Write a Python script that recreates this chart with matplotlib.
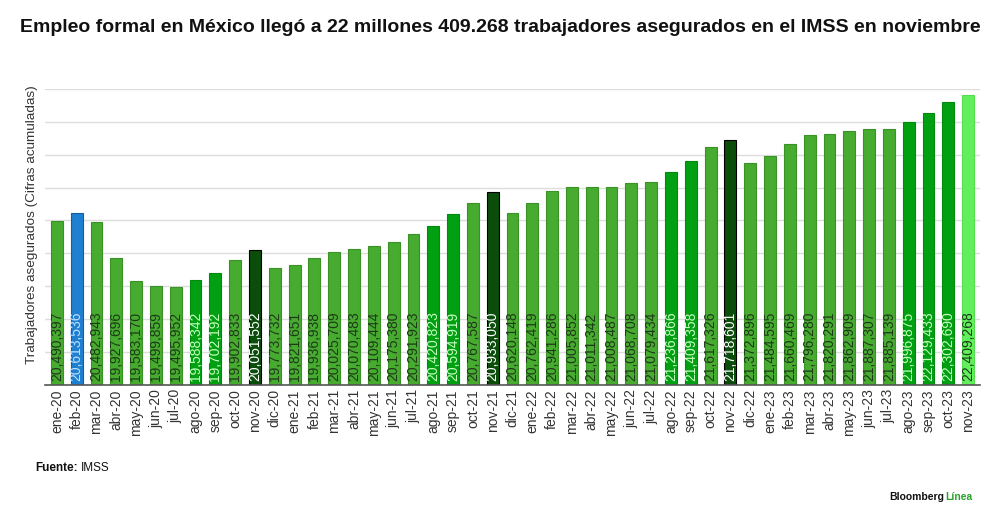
import matplotlib
matplotlib.use("Agg")
import matplotlib.pyplot as plt
from matplotlib.transforms import offset_copy

plt.rcParams['font.family'] = ['Liberation Sans', 'DejaVu Sans']

months = ["ene", "feb", "mar", "abr", "may", "jun", "jul", "ago", "sep", "oct", "nov", "dic"]
categories = [f"{m}-{y}" for y in ["20", "21", "22", "23"] for m in months][:47]

values = [
    20490397, 20613536, 20482943, 19927696, 19583170, 19499859, 19495952, 19588342,
    19702192, 19902833, 20051552, 19773732,
    19821651, 19936938, 20025709, 20070483, 20109444, 20175380, 20291923, 20420823,
    20594919, 20767587, 20933050, 20620148,
    20762419, 20941286, 21005852, 21011342, 21008487, 21068708, 21079434, 21236866,
    21409358, 21617326, 21718601, 21372896,
    21484595, 21660469, 21796280, 21820291, 21862909, 21887307, 21885139, 21996875,
    22129433, 22302690, 22409268,
]

# bar style groups
blue_bars = ["feb-20"]
bright_bars = ["ago-20", "sep-20", "ago-21", "sep-21", "ago-22", "sep-22",
               "ago-23", "sep-23", "oct-23"]
dark_bars = ["nov-20", "nov-21", "nov-22"]
light_bars = ["nov-23"]

styles = {
    "normal": dict(face="#47ab30", edge="#3a9126", text="#1d3a18"),
    "blue": dict(face="#1f7fd0", edge="#145fa3", text="#bfe0ff"),
    "bright": dict(face="#00a012", edge="#008a0e", text="#c6ffbf"),
    "dark": dict(face="#0b4d0b", edge="#000000", text="#ffffff"),
    "light": dict(face="#62ef5c", edge="#55dd50", text="#1d3a18"),
}

def style_of(c):
    if c in blue_bars:
        return styles["blue"]
    if c in bright_bars:
        return styles["bright"]
    if c in dark_bars:
        return styles["dark"]
    if c in light_bars:
        return styles["light"]
    return styles["normal"]

fig = plt.figure(figsize=(10, 5.27), dpi=100)
ax = fig.add_axes([0.045, 0.2694, 0.935, 0.562])

ymin, ymax = 18_000_000, 22_500_000
x = list(range(len(categories)))
st = [style_of(c) for c in categories]
ax.bar(x, [v - ymin for v in values], bottom=ymin, width=0.6,
       color=[s["face"] for s in st], edgecolor=[s["edge"] for s in st],
       linewidth=0.8, zorder=3)

ax.set_ylim(ymin, ymax)
ax.set_xlim(-0.6, len(categories) - 0.4)
ax.set_yticks(range(18_500_000, 22_500_001, 500_000))
ax.yaxis.grid(True, color="#dddddd", linewidth=1.0, zorder=0)
ax.tick_params(axis="y", length=0, labelleft=False)
ax.set_xticks(x)
ax.set_xticklabels(categories, rotation=90, fontsize=10, color="#333333")
ax.tick_params(axis="x", length=0, pad=3)
for s in ["top", "right", "left"]:
    ax.spines[s].set_visible(False)
ax.spines["bottom"].set_color("#555555")
ax.spines["bottom"].set_linewidth(1.2)
ax.spines["bottom"].set_zorder(4)

trans = offset_copy(ax.transData, fig=fig, x=0, y=4, units="dots")
for xi, v, s in zip(x, values, st):
    ax.text(xi, ymin, f"{v:,}", rotation=90, ha="center", va="bottom",
            fontsize=10, color=s["text"], transform=trans, zorder=5)

ax.set_ylabel("Trabajadores asegurados (Cifras acumuladas)", fontsize=9.7,
              color="#333333")
ax.yaxis.set_label_coords(-0.008, 0.54)

fig.text(0.5, 0.947, "Empleo formal en México llegó a 22 millones 409.268 trabajadores asegurados en el IMSS en noviembre",
         ha="center", va="center", fontsize=14, fontweight="bold", color="#111111")

fig.text(0.035, 0.112, "Fuente:", ha="left", va="center", fontsize=8.5,
         fontweight="bold", color="#111111")
fig.text(0.081, 0.112, "IMSS", ha="left", va="center", fontsize=8.5, color="#111111")

fig.text(0.944, 0.057, "Bloomberg", ha="right", va="center", fontsize=7.5,
         fontweight="bold", color="#111111")
fig.text(0.945, 0.057, "Línea", ha="left", va="center", fontsize=7.5,
         fontweight="bold", color="#2aa22a")

fig.savefig("out.png", dpi=100, facecolor="white")
